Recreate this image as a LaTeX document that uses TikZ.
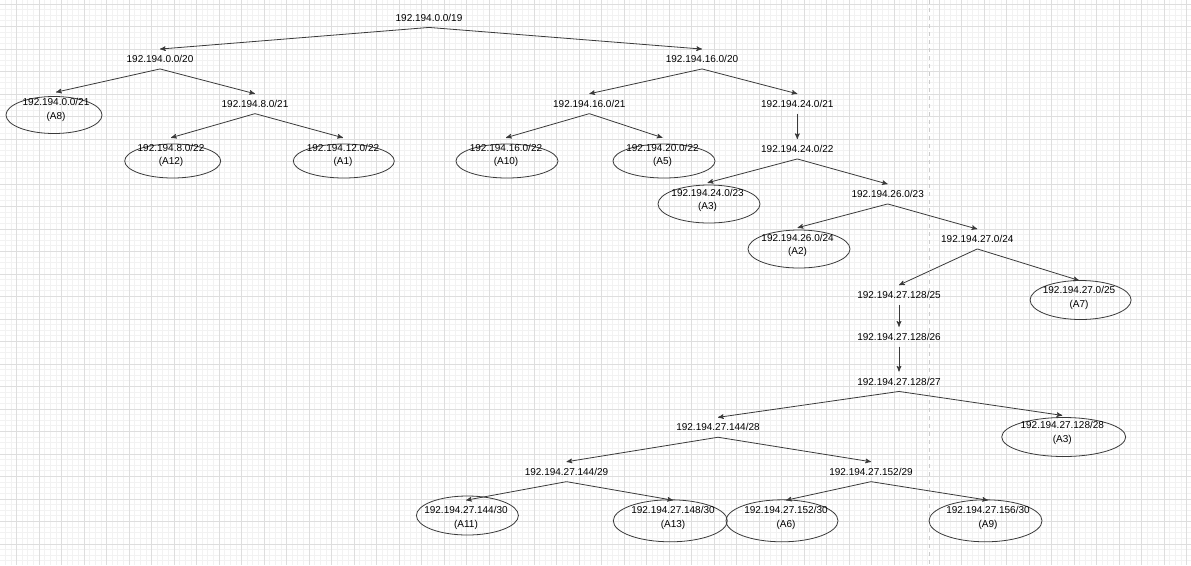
\documentclass[tikz,border=0pt]{standalone}
\usepackage{fontspec}
\setmainfont{Liberation Sans}
\usetikzlibrary{arrows,shapes.geometric}
\definecolor{gridlo}{HTML}{F2F2F2}
\definecolor{gridhi}{HTML}{DEDEDE}
\definecolor{kant}{HTML}{3A3A3A}
\tikzset{
	>=stealth',
	addr/.style={
		font=\fontsize{7.5}{10}\selectfont,
		inner xsep=2pt,
		inner ysep=4.5pt,
		align=center},
	blok/.style={
		ellipse,
		draw=kant,
		line width=0.6pt,
		inner sep=0pt},
	arw/.style={
		->,
		draw=kant,
		line width=0.6pt},
	rastlo/.style={
		draw=gridlo,
		line width=0.75pt},
	rasthi/.style={
		draw=gridhi,
		line width=0.75pt}
}
\begin{document}
\begin{tikzpicture}[x=0.75pt,y=0.75pt,yscale=-1,xscale=1]
\useasboundingbox (0,0) rectangle (1191,565);
\fill[white] (0,0) rectangle (1191,565);
% Grid
\foreach \k in {-2,...,209}
	\draw[rastlo] ({16.7+5.625*\k},0) -- ({16.7+5.625*\k},565);
\foreach \k in {0,...,100}
	\draw[rastlo] (0,{4+5.625*\k}) -- (1191,{4+5.625*\k});
\foreach \k in {0,...,52}
	\draw[rasthi] ({16.7+22.5*\k},0) -- ({16.7+22.5*\k},565);
\foreach \k in {0,...,24}
	\draw[rasthi] (0,{4+22.5*\k}) -- (1191,{4+22.5*\k});
% Page break
\draw[draw=gray!40, line width=0.75pt, dash pattern=on 3pt off 3pt] (929,0) -- (929,565);

% Ellipses
\draw (54,115) node [blok, minimum width=72pt, minimum height=27.75pt] (o8) {};
\draw (172.7,161) node [blok, minimum width=72pt, minimum height=25.5pt] (o12) {};
\draw (343.8,161) node [blok, minimum width=75.75pt, minimum height=25.5pt] (o1) {};
\draw (507,161) node [blok, minimum width=76.5pt, minimum height=25.5pt] (o10) {};
\draw (664,161) node [blok, minimum width=76.5pt, minimum height=25.5pt] (o5) {};
\draw (709,204) node [blok, minimum width=76.5pt, minimum height=28.5pt] (o3a) {};
\draw (799,249) node [blok, minimum width=76.5pt, minimum height=28.5pt] (o2) {};
\draw (1080.6,300) node [blok, minimum width=75.75pt, minimum height=29.25pt] (o7) {};
\draw (1063.7,437) node [blok, minimum width=93pt, minimum height=29.25pt] (o3b) {};
\draw (467.4,515.5) node [blok, minimum width=76.5pt, minimum height=29.25pt] (o11) {};
\draw (670.3,520.8) node [blok, minimum width=85.5pt, minimum height=31.5pt] (o13) {};
\draw (782,520.8) node [blok, minimum width=84pt, minimum height=31.5pt] (o6) {};
\draw (985.5,520.8) node [blok, minimum width=84.75pt, minimum height=31.5pt] (o9) {};

% Text Node
\draw (429,17.5) node [addr] (r19) {192.194.0.0/19};
% Text Node
\draw (160,59) node [addr] (a20) {192.194.0.0/20};
% Text Node
\draw (702,59) node [addr] (b20) {192.194.16.0/20};
% Text Node
\draw (255,103.7) node [addr] (a21) {192.194.8.0/21};
% Text Node
\draw (589.3,103.7) node [addr] (b21) {192.194.16.0/21};
% Text Node
\draw (797.3,103.7) node [addr] (c21) {192.194.24.0/21};
% Text Node
\draw (797.3,149) node [addr] (c22) {192.194.24.0/22};
% Text Node
\draw (887.7,194) node [addr] (d23) {192.194.26.0/23};
% Text Node
\draw (977.3,239) node [addr] (d24) {192.194.27.0/24};
% Text Node
\draw (899,295) node [addr] (e25) {192.194.27.128/25};
% Text Node
\draw (899,336.7) node [addr] (e26) {192.194.27.128/26};
% Text Node
\draw (899,381.5) node [addr] (e27) {192.194.27.128/27};
% Text Node
\draw (718,427.3) node [addr] (f28) {192.194.27.144/28};
% Text Node
\draw (566.5,471.7) node [addr] (f29) {192.194.27.144/29};
% Text Node
\draw (871,471.7) node [addr] (g29) {192.194.27.152/29};

% Text Node
\draw (56,109.8) node [addr] (t8) {192.194.0.0/21\\(A8)};
% Text Node
\draw (171,155.3) node [addr] (t12) {192.194.8.0/22\\(A12)};
% Text Node
\draw (343,155.3) node [addr] (t1) {192.194.12.0/22\\(A1)};
% Text Node
\draw (506,155.3) node [addr] (t10) {192.194.16.0/22\\(A10)};
% Text Node
\draw (662.5,155.3) node [addr] (t5) {192.194.20.0/22\\(A5)};
% Text Node
\draw (707.6,200.3) node [addr] (t3a) {192.194.24.0/23\\(A3)};
% Text Node
\draw (797.6,245.3) node [addr] (t2) {192.194.26.0/24\\(A2)};
% Text Node
\draw (1079,298) node [addr] (t7) {192.194.27.0/25\\(A7)};
% Text Node
\draw (1062.3,433) node [addr] (t3b) {192.194.27.128/28\\(A3)};
% Text Node
\draw (466,517.8) node [addr] (t11) {192.194.27.144/30\\(A11)};
% Text Node
\draw (673,517.8) node [addr] (t13) {192.194.27.148/30\\(A13)};
% Text Node
\draw (786,517.8) node [addr] (t6) {192.194.27.152/30\\(A6)};
% Text Node
\draw (988,517.8) node [addr] (t9) {192.194.27.156/30\\(A9)};

% Arrows
\draw [arw] (r19.south) -- (a20.north);
\draw [arw] (r19.south) -- (b20.north);
\draw [arw] (a20.south) -- (t8.north);
\draw [arw] (a20.south) -- (a21.north);
\draw [arw] (a21.south) -- (t12.north);
\draw [arw] (a21.south) -- (t1.north);
\draw [arw] (b20.south) -- (b21.north);
\draw [arw] (b20.south) -- (c21.north);
\draw [arw] (b21.south) -- (t10.north);
\draw [arw] (b21.south) -- (t5.north);
\draw [arw] (c21.south) -- (c22.north);
\draw [arw] (c22.south) -- (t3a.north);
\draw [arw] (c22.south) -- (d23.north);
\draw [arw] (d23.south) -- (t2.north);
\draw [arw] (d23.south) -- (d24.north);
\draw [arw] (d24.south) -- (e25.north);
\draw [arw] (d24.south) -- (t7.north);
\draw [arw] (e25.south) -- (e26.north);
\draw [arw] (e26.south) -- (e27.north);
\draw [arw] (e27.south) -- (f28.north);
\draw [arw] (e27.south) -- (t3b.north);
\draw [arw] (f28.south) -- (f29.north);
\draw [arw] (f28.south) -- (g29.north);
\draw [arw] (f29.south) -- (t11.north);
\draw [arw] (f29.south) -- (t13.north);
\draw [arw] (g29.south) -- (t6.north);
\draw [arw] (g29.south) -- (t9.north);
\end{tikzpicture}
\end{document}
